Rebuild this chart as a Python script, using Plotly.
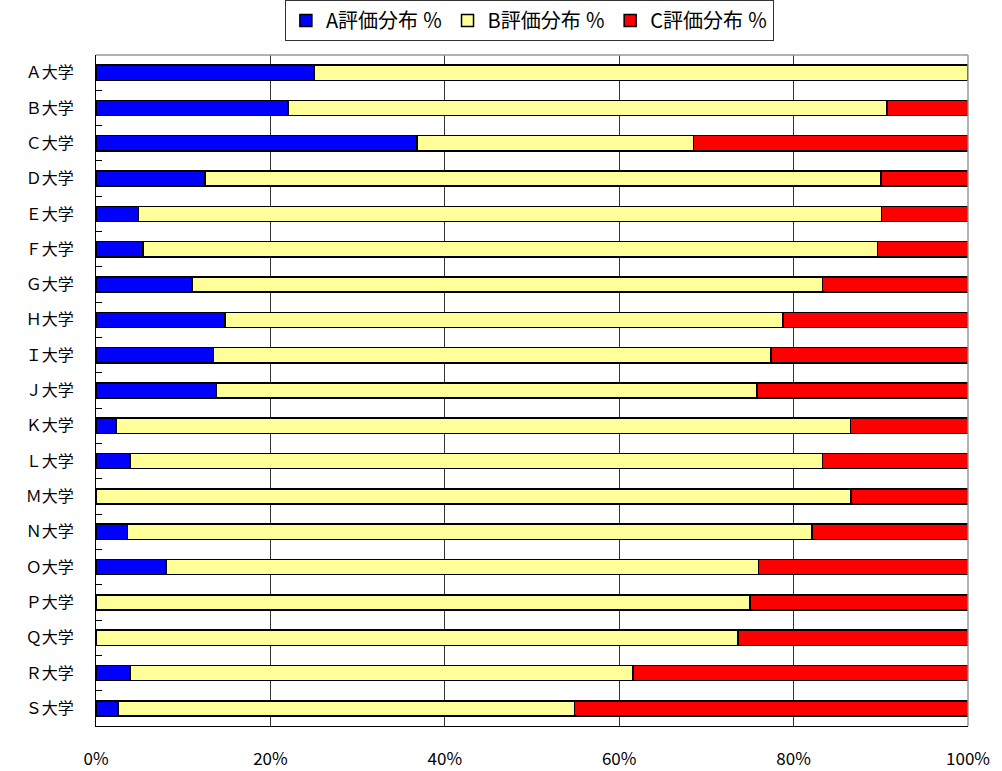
import plotly.graph_objects as go

universities = ["Ａ大学", "Ｂ大学", "Ｃ大学", "Ｄ大学", "Ｅ大学", "Ｆ大学", "Ｇ大学", "Ｈ大学", "Ｉ大学",
                "Ｊ大学", "Ｋ大学", "Ｌ大学", "Ｍ大学", "Ｎ大学", "Ｏ大学", "Ｐ大学", "Ｑ大学", "Ｒ大学", "Ｓ大学"]
a_pct = [25.0, 22.0, 36.8, 12.5, 4.9, 5.4, 11.0, 14.8, 13.5, 13.8, 2.3, 3.9, 0.0, 3.6, 8.0, 0.0, 0.0, 3.9, 2.5]
b_pct = [75.0, 68.7, 31.7, 77.5, 85.2, 84.2, 72.3, 64.0, 63.9, 62.0, 84.2, 79.4, 86.6, 78.5, 68.0, 75.0, 73.6, 57.7, 52.4]
c_pct = [round(100 - a - b, 1) for a, b in zip(a_pct, b_pct)]

series_names = ["A評価分布 ％", "B評価分布 ％", "C評価分布 ％"]
series_colors = ["#0000FF", "#FFFF99", "#FF0000"]
x_ticks = [0, 20, 40, 60, 80, 100]
x_tick_labels = ["0%", "20%", "40%", "60%", "80%", "100%"]

FONT = "Noto Sans CJK JP"

fig = go.Figure()
for name, vals, col in zip(series_names, [a_pct, b_pct, c_pct], series_colors):
    fig.add_trace(go.Bar(
        y=universities, x=vals, name=name, orientation="h",
        marker=dict(color=col, line=dict(color="#000000", width=1.5)),
    ))

fig.update_layout(
    width=1002, height=771,
    barmode="stack", bargap=0.57,
    plot_bgcolor="white", paper_bgcolor="white",
    margin=dict(l=96, r=34, t=55, b=45, autoexpand=False),
    font=dict(family=FONT, size=16, color="#000000"),
    legend=dict(
        orientation="h", x=0.497, xanchor="center", y=1.082, yanchor="top",
        bordercolor="#333333", borderwidth=1, bgcolor="white",
        font=dict(family=FONT, size=20, color="#000000"),
        traceorder="normal", itemwidth=30, tracegroupgap=0,
    ),
    xaxis=dict(
        range=[0, 100], tickvals=x_ticks, ticktext=x_tick_labels,
        showgrid=True, gridcolor="#333333", gridwidth=1,
        showline=True, linecolor="#000000", linewidth=1,
        ticks="", ticklabelstandoff=18, zeroline=False, automargin=False,
        tickfont=dict(family=FONT, size=17),
    ),
    yaxis=dict(
        autorange="reversed", showgrid=False, automargin=False,
        showline=True, linecolor="#000000", linewidth=1,
        ticks="inside", tickson="boundaries", ticklen=6, tickcolor="#000000",
        ticklabelstandoff=18,
        tickfont=dict(family=FONT, size=16),
    ),
)

fig.add_shape(type="line", xref="x domain", yref="y domain", x0=0, x1=1, y0=1, y1=1,
              line=dict(color="#999999", width=1.5), layer="above")
fig.add_shape(type="line", xref="x domain", yref="y domain", x0=1, x1=1, y0=0, y1=1,
              line=dict(color="#999999", width=1.5), layer="above")

fig.write_html("out.html")
